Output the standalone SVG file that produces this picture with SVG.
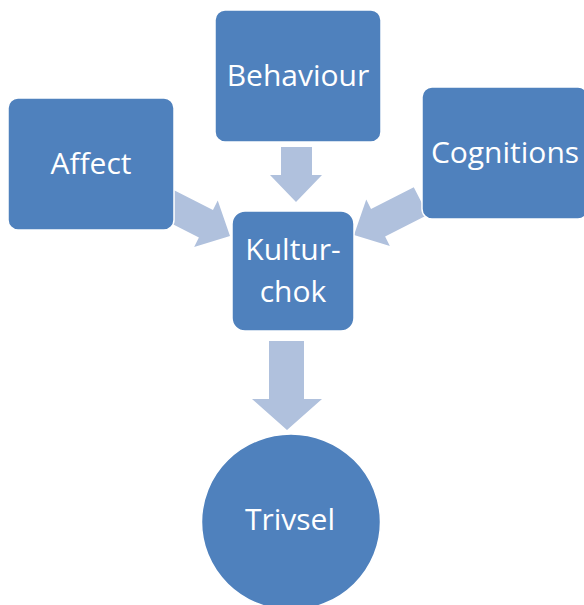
<svg xmlns="http://www.w3.org/2000/svg" width="584" height="605" viewBox="0 0 584 605">
<defs>
<style>
.node{fill:#4F81BD;stroke:#FFFFFF;stroke-width:1.5}
.arrow{fill:#B0C1DD}
.label{fill:#FFFFFF;font-family:"Open Sans","Noto Sans",sans-serif;font-size:30px;text-anchor:middle}
</style>
<path id="arr" d="M-75,-15.5 L-27,-15.5 L-27,-26 L0,0 L-27,26 L-27,15.5 L-75,15.5 Z"/>
</defs>
<rect width="584" height="605" fill="#FFFFFF"/>
<g id="connectors">
<use href="#arr" class="arrow" transform="translate(230,236) rotate(27)"/>
<use href="#arr" class="arrow" transform="translate(354,235) rotate(153)"/>
<path class="arrow" d="M281,147 L312,147 L312,175 L322,175 L296,202 L270,175 L281,175 Z"/>
<path class="arrow" d="M269,341 L304,341 L304,399 L322,399 L287,430 L252,399 L269,399 Z"/>
</g>
<g id="affect">
<rect class="node" x="8" y="98" width="166" height="132" rx="10"/>
<text class="label" x="91" y="174">Affect</text>
</g>
<g id="behaviour">
<rect class="node" x="215" y="10" width="166" height="132" rx="10"/>
<text class="label" x="298" y="86">Behaviour</text>
</g>
<g id="cognitions">
<rect class="node" x="422" y="87" width="166" height="132" rx="10"/>
<text class="label" x="505" y="163">Cognitions</text>
</g>
<g id="kulturchok">
<rect class="node" x="232" y="211" width="122" height="120" rx="13"/>
<text class="label" x="293" y="260">Kultur-</text>
<text class="label" x="293" y="302">chok</text>
</g>
<g id="trivsel">
<ellipse class="node" cx="291" cy="522" rx="89.5" ry="88"/>
<text class="label" x="290" y="530">Trivsel</text>
</g>
</svg>
